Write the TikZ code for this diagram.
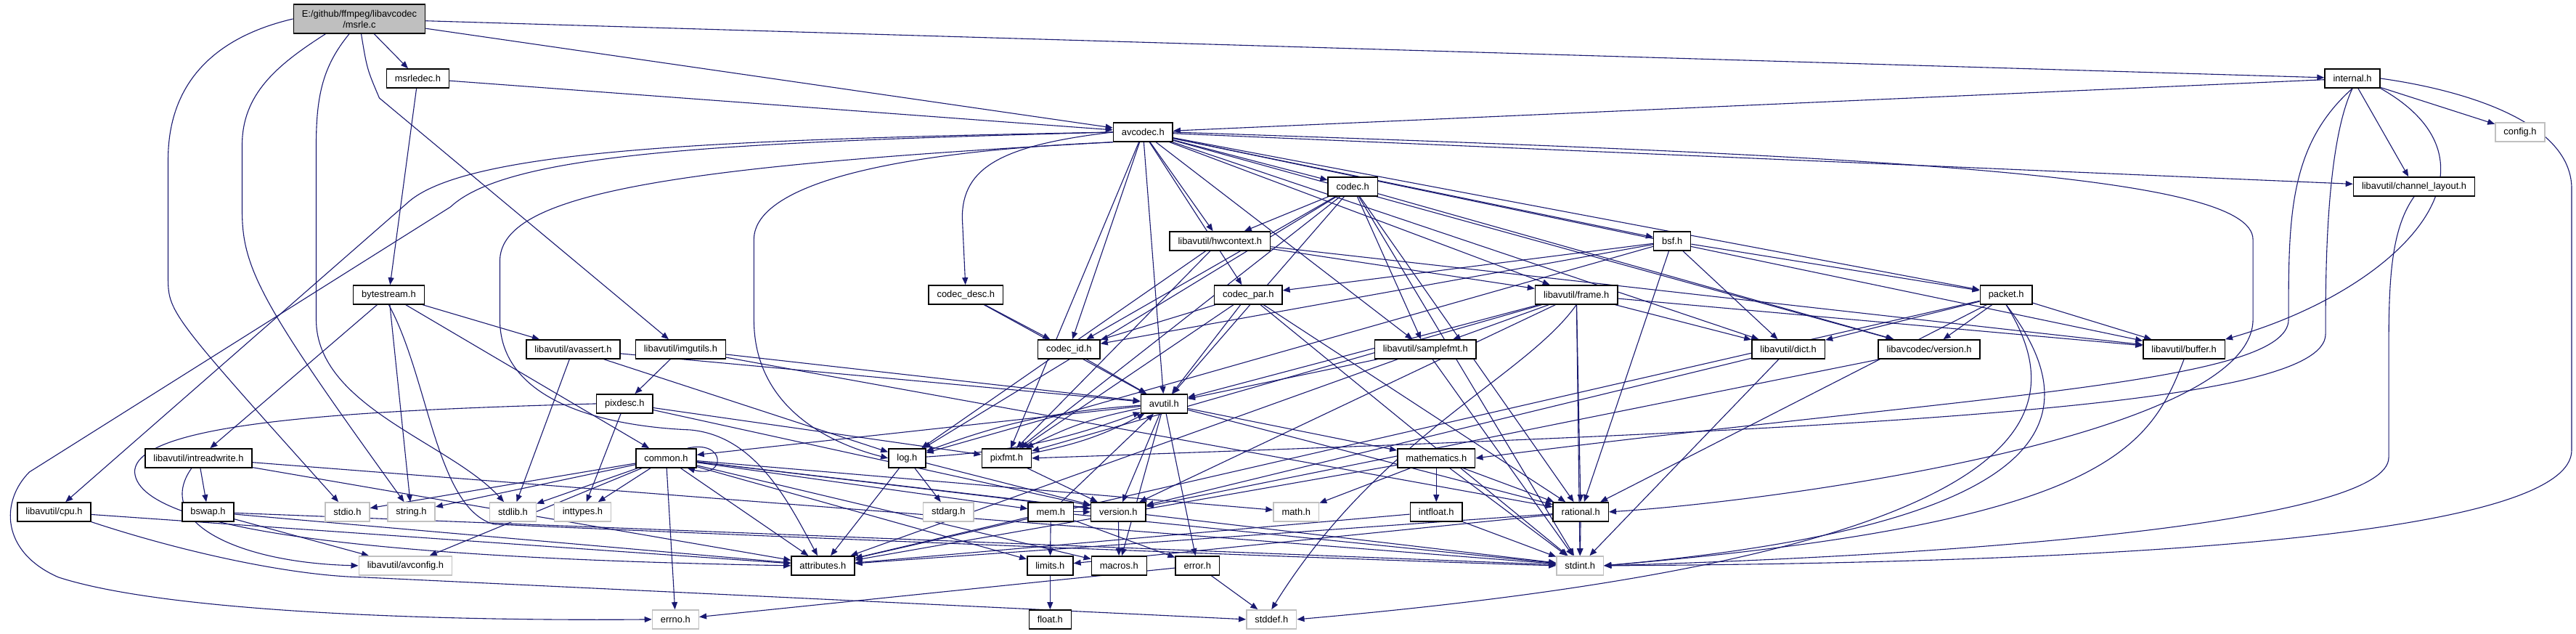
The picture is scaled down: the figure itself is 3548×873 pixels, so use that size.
\documentclass[tikz,border=0pt]{standalone}
\usepackage{fontspec}
\setmainfont{Liberation Sans}
\usetikzlibrary{arrows.meta}

\definecolor{edgeblue}{HTML}{191970}
\definecolor{rootgray}{HTML}{BFBFBF}
\definecolor{sysgray}{HTML}{C0C0C0}

\pgfdeclarelayer{bg}
\pgfdeclarelayer{edges}
\pgfsetlayers{bg,edges,main}

\begin{document}
\begin{tikzpicture}[
    x=1pt, y=-1pt,
    file/.style={rectangle, draw=black, line width=1.5pt, fill=white, minimum height=26pt,
        inner xsep=11.5pt, inner ysep=0pt, font=\fontsize{12.9}{15}\selectfont},
    sysfile/.style={file, draw=sysgray},
    rootfile/.style={file, fill=rootgray, minimum height=40pt, align=center},
    inc/.style={draw=edgeblue, line width=1.1pt, -{Triangle[length=10pt, width=8pt]}}
]

\begin{pgfonlayer}{bg}
\path[fill=white, use as bounding box] (0,0) rectangle (3548,873);
\end{pgfonlayer}

% the file itself
\node[rootfile] (msrlec) at (494.5,26) {E:/github/ffmpeg/libavcodec\\/msrle.c};

% first levels
\node[file] (msrledec) at (575,108) {msrledec.h};
\node[file] (internal) at (3240,108) {internal.h};
\node[file] (avcodec) at (1574,182) {avcodec.h};
\node[sysfile] (config) at (3471,182) {config.h};
\node[file] (codec) at (1863,257) {codec.h};
\node[file] (chlayout) at (3325,257) {libavutil/channel\_layout.h};
\node[file] (hwctx) at (1680,332) {libavutil/hwcontext.h};
\node[file] (bsf) at (2303,332) {bsf.h};

% row of codec headers
\node[file] (bytestream) at (535,406) {bytestream.h};
\node[file] (codecdesc) at (1330,406) {codec\_desc.h};
\node[file] (codecpar) at (1719,406) {codec\_par.h};
\node[file] (frame) at (2171,406) {libavutil/frame.h};
\node[file] (packet) at (2763,406) {packet.h};

\node[file] (avassert) at (789,481) {libavutil/avassert.h};
\node[file] (imgutils) at (937,481) {libavutil/imgutils.h};
\node[file] (codecid) at (1472,481) {codec\_id.h};
\node[file] (samplefmt) at (1963,481) {libavutil/samplefmt.h};
\node[file] (dict) at (2463,481) {libavutil/dict.h};
\node[file] (lavcversion) at (2657,481) {libavcodec/version.h};
\node[file] (buffer) at (3008,481) {libavutil/buffer.h};

\node[file] (pixdesc) at (860,556) {pixdesc.h};
\node[file] (avutil) at (1603,556) {avutil.h};

\node[file] (intrw) at (273,631) {libavutil/intreadwrite.h};
\node[file] (common) at (917,631) {common.h};
\node[file] (logh) at (1249,631) {log.h};
\node[file] (pixfmt) at (1386,631) {pixfmt.h};
\node[file] (mathematics) at (1978,631) {mathematics.h};

% lower rows, system headers in grey
\node[file] (cpu) at (74,705) {libavutil/cpu.h};
\node[file] (bswap) at (286,705) {bswap.h};
\node[sysfile] (stdio) at (478,705) {stdio.h};
\node[sysfile] (string) at (566,705) {string.h};
\node[sysfile] (stdlib) at (706,705) {stdlib.h};
\node[sysfile] (inttypes) at (802,705) {inttypes.h};
\node[sysfile] (stdarg) at (1306,705) {stdarg.h};
\node[file] (mem) at (1447,705) {mem.h};
\node[file] (version) at (1540,705) {version.h};
\node[sysfile] (mathh) at (1785,705) {math.h};
\node[file] (intfloat) at (1978,705) {intfloat.h};
\node[file] (rational) at (2177,705) {rational.h};

\node[sysfile] (avconfig) at (558,779) {libavutil/avconfig.h};
\node[file] (attributes) at (1133,779) {attributes.h};
\node[file] (limits) at (1446,779) {limits.h};
\node[file] (macros) at (1541,779) {macros.h};
\node[file] (error) at (1649,779) {error.h};
\node[sysfile] (stdint) at (2176,779) {stdint.h};

\node[sysfile] (errno) at (930,853) {errno.h};
\node[file] (floath) at (1446,853) {float.h};
\node[sysfile] (stddef) at (1751,853) {stddef.h};

\begin{pgfonlayer}{edges}
% msrle.c
\foreach \t in {msrledec,internal,avcodec} \draw[inc] (msrlec) -- (\t);
\draw[inc] (msrlec.277) .. controls (505,95) .. (522,135) -- (imgutils);
\draw[inc] (msrlec.west) .. controls (300,50) and (231,110) .. (231,220) -- (231,380) .. controls (231,430) .. (stdio);
\draw[inc] (msrlec.204) .. controls (380,90) and (333,130) .. (333,200) -- (333,290) .. controls (333,370) and (360,420) .. (string);
\draw[inc] (msrlec.236) .. controls (445,90) and (435,130) .. (435,200) -- (435,440) .. controls (435,560) and (620,610) .. (stdlib);

% msrledec.h, bytestream.h
\foreach \t in {avcodec,bytestream} \draw[inc] (msrledec) -- (\t);
\foreach \t in {intrw,string,common,avassert} \draw[inc] (bytestream) -- (\t);
\draw[inc] (bytestream.south) .. controls (590,520) and (600,700) .. (680,722) .. controls (1200,745) and (1900,772) .. (stdint.west);

% avcodec.h
\foreach \t in {samplefmt,avutil,buffer,chlayout,dict,frame,hwctx,pixfmt,codec,codecpar,codecid,packet,lavcversion,bsf}
    \draw[inc] (avcodec) -- (\t);
\draw[inc] (avcodec.west) .. controls (1380,200) and (1325,230) .. (1325,300) -- (codecdesc);
\draw[inc] (avcodec.west) .. controls (1000,192) and (640,205) .. (560,280) -- (cpu);
\draw[inc] (avcodec.west) .. controls (1000,196) and (700,210) .. (620,285) -- (40,650) .. controls (0,690) and (0,760) .. (80,795) .. controls (250,850) and (700,855) .. (errno.west);
\draw[inc] (avcodec.south west) .. controls (900,230) and (688,270) .. (688,360) -- (688,440) .. controls (688,560) and (850,588) .. (950,592) .. controls (1040,600) and (1085,690) .. (attributes);
\draw[inc] (avcodec.south west) .. controls (1200,210) and (1038,260) .. (1038,330) -- (1038,440) .. controls (1038,560) and (1140,610) .. (logh.west);
\draw[inc] (avcodec.east) .. controls (2600,215) and (3103,240) .. (3103,330) -- (3103,440) .. controls (3103,600) and (2450,690) .. (rational.east);

% internal.h
\foreach \t in {avcodec,config,chlayout} \draw[inc] (internal) -- (\t);
\draw[inc] (internal.east) .. controls (3400,125) and (3542,170) .. (3542,260) -- (3542,620) .. controls (3542,730) and (3000,775) .. (stdint.east);
\draw[inc] (internal.south east) .. controls (3470,230) and (3300,400) .. (buffer.north east);
\draw[inc] (internal.south) .. controls (3152,200) and (3152,300) .. (3152,440) .. controls (3152,530) and (2700,545) .. (mathematics.east);
\draw[inc] (internal.south) .. controls (3203,200) and (3203,380) .. (3203,460) .. controls (3203,560) and (2600,590) .. (pixfmt.east);

% libavcodec headers
\foreach \t in {stdint,avutil,hwctx,logh,pixfmt,rational,samplefmt,codecid,lavcversion} \draw[inc] (codec) -- (\t);
\foreach \t in {avutil,codecid} \draw[inc] (codecdesc) -- (\t);
\foreach \t in {stdint,avutil,rational,pixfmt,codecid} \draw[inc] (codecpar) -- (\t);
\draw[inc] (codecid) -- (avutil);
\foreach \t in {dict,logh,rational,codecid,codecpar,packet} \draw[inc] (bsf) -- (\t);
\foreach \t in {attributes,buffer,dict,rational,lavcversion} \draw[inc] (packet) -- (\t);
\draw[inc] (packet.south) .. controls (2870,560) and (2870,720) .. (stdint.east);
\draw[inc] (packet.south) .. controls (2850,560) and (2850,760) .. (stddef.east);
\draw[inc] (lavcversion) -- (version);

% libavutil headers
\foreach \t in {buffer,frame,logh,pixfmt} \draw[inc] (hwctx) -- (\t);
\foreach \t in {stdint,avutil,buffer,dict,rational,samplefmt,pixfmt,version} \draw[inc] (frame) -- (\t);
\draw[inc] (frame.south) .. controls (2100,520) and (1900,600) .. (stddef.north);
\draw[inc] (chlayout.south) .. controls (3290,320) and (3290,400) .. (3290,500) -- (3290,630) .. controls (3290,720) and (2700,765) .. (stdint.east);
\draw[inc] (buffer.south) .. controls (2960,620) and (2900,720) .. (stdint.east);
\foreach \t in {stdint,version} \draw[inc] (dict) -- (\t);
\foreach \t in {stdint,avutil,attributes} \draw[inc] (samplefmt) -- (\t);
\foreach \t in {avutil,pixdesc,rational} \draw[inc] (imgutils) -- (\t);
\foreach \t in {stdlib,avutil,logh} \draw[inc] (avassert) -- (\t);
\foreach \t in {inttypes,pixfmt,version} \draw[inc] (pixdesc) -- (\t);
\draw[inc] (pixdesc.west) .. controls (500,565) and (185,580) .. (185,650) .. controls (190,740) and (600,770) .. (attributes.west);
\foreach \t in {stdint,attributes,bswap} \draw[inc] (intrw) -- (\t);
\draw[inc] (intrw.235) .. controls (210,720) and (330,775) .. (avconfig.west);
\foreach \t in {stdint,avconfig,attributes} \draw[inc] (bswap) -- (\t);
\draw[inc] (cpu) -- (attributes);
\draw[inc] (cpu.south east) .. controls (250,760) and (400,793) .. (500,795) -- (stddef.west);

% avutil.h and below
\foreach \t in {common,error,rational,version,macros,mathematics} \draw[inc] (avutil) -- (\t);
\draw[inc] (avutil) to[bend right=8] (logh);
\draw[inc] (logh) to[bend right=8] (avutil);
\draw[inc] (avutil) to[bend right=8] (pixfmt);
\draw[inc] (pixfmt) to[bend right=8] (avutil);
\foreach \t in {errno,inttypes,limits,mathh,stdint,stdio,stdlib,string,attributes,macros,version,avconfig,mem}
    \draw[inc] (common) -- (\t);
\draw[inc] (common.25) .. controls (1000,605) and (1000,660) .. (common.-25);
\foreach \t in {stdarg,attributes,version} \draw[inc] (logh) -- (\t);
\draw[inc] (pixfmt) -- (version);
\foreach \t in {limits,stdint,attributes,error,avutil,version} \draw[inc] (mem) -- (\t);
\foreach \t in {stdint,mathh,attributes,rational,intfloat} \draw[inc] (mathematics) -- (\t);
\foreach \t in {stdint,attributes} \draw[inc] (intfloat) -- (\t);
\foreach \t in {stdint,limits,attributes} \draw[inc] (rational) -- (\t);
\draw[inc] (version) -- (macros);
\foreach \t in {errno,stddef} \draw[inc] (error) -- (\t);
\draw[inc] (limits) -- (floath);
\end{pgfonlayer}

\end{tikzpicture}
\end{document}
